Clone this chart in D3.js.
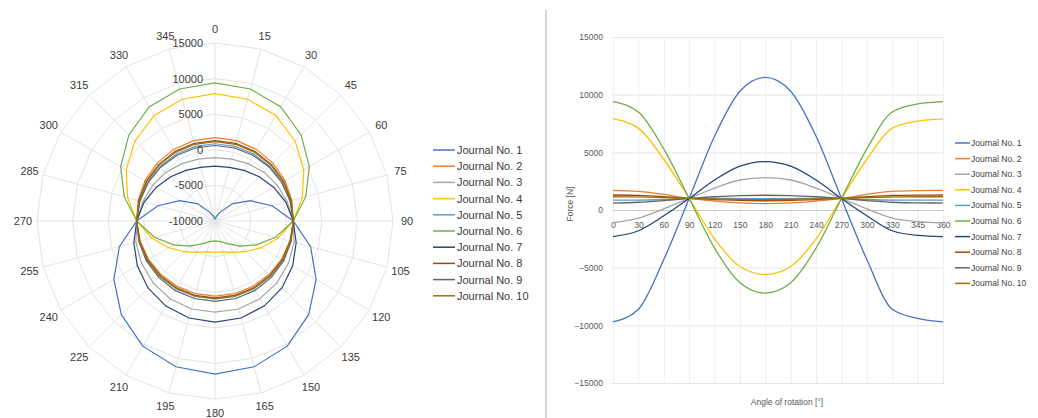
<!DOCTYPE html>
<html><head><meta charset="utf-8">
<script src="https://cdn.jsdelivr.net/npm/d3@7"></script>
<style>body{margin:0;background:#fff;} svg{display:block;font-family:"Liberation Sans",Arial,sans-serif;}</style>
</head><body><svg id="c" width="1038" height="418"></svg>
<script>
// ---------- data ----------
const angles = [0,15,30,45,60,75,90,105,120,135,150,165,180,195,210,225,240,255,270,285,300,315,330,345];
const seriesNames = ["Journal No. 1","Journal No. 2","Journal No. 3","Journal No. 4","Journal No. 5","Journal No. 6","Journal No. 7","Journal No. 8","Journal No. 9","Journal No. 10"];
const seriesColors = ["#4472C4","#ED7D31","#A5A5A5","#FFC000","#5B9BD5","#70AD47","#264478","#9E480E","#636363","#997300"];
const journal1 = [-9700,-9400,-8600,-6600,-4300,-1700,1000,3900,6400,8600,10300,11200,11500,11200,10300,8600,6400,3900,1000,-1700,-4300,-6600,-8600,-9400];
const journal2 = [1700,1680,1610,1490,1350,1180,1000,880,780,680,610,570,550,570,610,680,780,880,1000,1180,1350,1490,1610,1680];
const journal3 = [-1100,-1000,-700,-300,100,500,1000,1500,1900,2300,2600,2800,2800,2800,2600,2300,1900,1500,1000,500,100,-300,-700,-1000];
const journal4 = [7900,7700,7100,5900,4400,2700,1000,-800,-2500,-3900,-4900,-5500,-5600,-5500,-4900,-3900,-2500,-800,1000,2700,4400,5900,7100,7700];
const journal5 = [850,850,860,880,910,950,1000,1010,1010,1000,990,980,980,980,990,1000,1010,1010,1000,950,910,880,860,850];
const journal6 = [9400,9200,8500,7100,5300,3200,1000,-1200,-3300,-5000,-6300,-7000,-7200,-7000,-6300,-5000,-3300,-1200,1000,3200,5300,7100,8500,9200];
const journal7 = [-2300,-2200,-1800,-1200,-500,300,1000,1800,2600,3300,3800,4100,4200,4100,3800,3300,2600,1800,1000,300,-500,-1200,-1800,-2200];
const journal8 = [1300,1290,1260,1210,1150,1080,1000,950,900,860,830,810,800,810,830,860,900,950,1000,1080,1150,1210,1260,1290];
const journal9 = [600,620,670,740,820,910,1000,1080,1150,1200,1250,1270,1280,1270,1250,1200,1150,1080,1000,910,820,740,670,620];
const journal10 = [1150,1150,1130,1110,1080,1040,1000,980,960,940,920,910,900,910,920,940,960,980,1000,1040,1080,1110,1130,1150];
const radialTicks = [-10000,-5000,0,5000,10000,15000];
const lineCategories = ["0","30","60","90","120","150","180","210","240","270","300","330","345","360"];
const forceTicks = [-15000,-10000,-5000,0,5000,10000,15000];
const yTitle = "Force [N]";
const xTitle = "Angle of rotation [°]";

const allSeries = [journal1,journal2,journal3,journal4,journal5,journal6,journal7,journal8,journal9,journal10];

const svg = d3.select("#c");
const txt = "#3a3a3a";

// ---------- polar (radar) chart ----------
const cx = 215, cy = 221, R = 178;
const r = d3.scaleLinear().domain([-10000,15000]).range([0,R]);
const ang = d3.scaleLinear().domain([0,360]).range([0,2*Math.PI]);
const gP = svg.append("g").attr("transform",`translate(${cx},${cy})`);

// ring gridlines (polygons)
radialTicks.slice(1).forEach(t=>{
  gP.append("path")
    .attr("d", d3.lineRadial().angle(a=>ang(a)).radius(()=>r(t)).curve(d3.curveLinearClosed)(angles))
    .attr("fill","none").attr("stroke","#e3e3e3").attr("stroke-width",1);
});
// spokes
angles.forEach(a=>{
  const th = ang(a);
  gP.append("line").attr("x1",0).attr("y1",0)
    .attr("x2",R*Math.sin(th)).attr("y2",-R*Math.cos(th))
    .attr("stroke","#e3e3e3").attr("stroke-width",1);
  gP.append("text").attr("x",192*Math.sin(th)).attr("y",-192*Math.cos(th))
    .attr("text-anchor","middle").attr("dominant-baseline","central")
    .attr("font-size",11).attr("fill",txt).text(a);
});
// series
allSeries.forEach((s,i)=>{
  const line = d3.lineRadial().angle((d,k)=>ang(angles[k])).radius(d=>r(d)).curve(d3.curveLinearClosed);
  gP.append("path").attr("d",line(s)).attr("fill","none")
    .attr("stroke",seriesColors[i]).attr("stroke-width",1.2);
});
// radial tick labels
radialTicks.forEach(t=>{
  gP.append("text").attr("x",-12).attr("y",-r(t))
    .attr("text-anchor","end").attr("dominant-baseline","central")
    .attr("font-size",11).attr("fill",txt).text(t);
});
// left legend
const gL1 = svg.append("g");
seriesNames.forEach((n,i)=>{
  const y = 150 + i*16.2;
  gL1.append("line").attr("x1",433).attr("x2",455).attr("y1",y).attr("y2",y)
    .attr("stroke",seriesColors[i]).attr("stroke-width",1.5);
  gL1.append("text").attr("x",457).attr("y",y).attr("dominant-baseline","central")
    .attr("font-size",11).attr("fill",txt).text(n);
});

// separator
svg.append("line").attr("x1",546).attr("x2",546).attr("y1",10).attr("y2",418)
  .attr("stroke","#d4d4d4").attr("stroke-width",2);

// ---------- line chart ----------
const x = d3.scalePoint().domain(lineCategories).range([613,943]);
const y = d3.scaleLinear().domain([-15000,15000]).range([383,37]);
const gR = svg.append("g");
const fmt = d3.format("d");

// horizontal gridlines + y labels
gR.append("g").attr("transform","translate(612,0)")
  .call(d3.axisLeft(y).tickValues(forceTicks).tickSize(-332).tickPadding(9).tickFormat(fmt))
  .call(g=>{
    g.select(".domain").remove();
    g.selectAll(".tick line").attr("stroke","#e6e6e6");
    g.selectAll(".tick text").attr("font-size",8.5).attr("fill","#595959").attr("font-family","Liberation Sans, Arial, sans-serif");
  });
// vertical gridlines
gR.append("g").attr("transform","translate(0,383)")
  .call(d3.axisBottom(x).tickSize(-346).tickFormat(""))
  .call(g=>{
    g.select(".domain").remove();
    g.selectAll(".tick line").attr("stroke","#efefef");
  });
// zero axis
gR.append("g").attr("transform",`translate(0,${y(0)})`)
  .call(d3.axisBottom(x).tickSize(0).tickPadding(12))
  .call(g=>{
    g.select(".domain").attr("stroke","#c8c8c8");
    g.selectAll(".tick text").attr("font-size",8.5).attr("fill","#595959").attr("font-family","Liberation Sans, Arial, sans-serif");
  });
// series lines
allSeries.forEach((s,i)=>{
  const vals = lineCategories.map(c=>({c, v: s[angles.indexOf((+c)%360)]}));
  const line = d3.line().x(d=>x(d.c)).y(d=>y(d.v)).curve(d3.curveMonotoneX);
  gR.append("path").attr("d",line(vals)).attr("fill","none")
    .attr("stroke",seriesColors[i]).attr("stroke-width",1.3);
});
// titles
gR.append("text").attr("transform","translate(570,204) rotate(-90)")
  .attr("text-anchor","middle").attr("dominant-baseline","central")
  .attr("font-size",8.5).attr("fill","#595959").text(yTitle);
gR.append("text").attr("x",787).attr("y",402)
  .attr("text-anchor","middle").attr("dominant-baseline","central")
  .attr("font-size",8.5).attr("fill","#595959").text(xTitle);
// right legend
seriesNames.forEach((n,i)=>{
  const yy = 143 + i*15.6;
  gR.append("line").attr("x1",955).attr("x2",970).attr("y1",yy).attr("y2",yy)
    .attr("stroke",seriesColors[i]).attr("stroke-width",1.5);
  gR.append("text").attr("x",971).attr("y",yy).attr("dominant-baseline","central")
    .attr("font-size",8.5).attr("fill","#404040").text(n);
});
</script></body></html>
